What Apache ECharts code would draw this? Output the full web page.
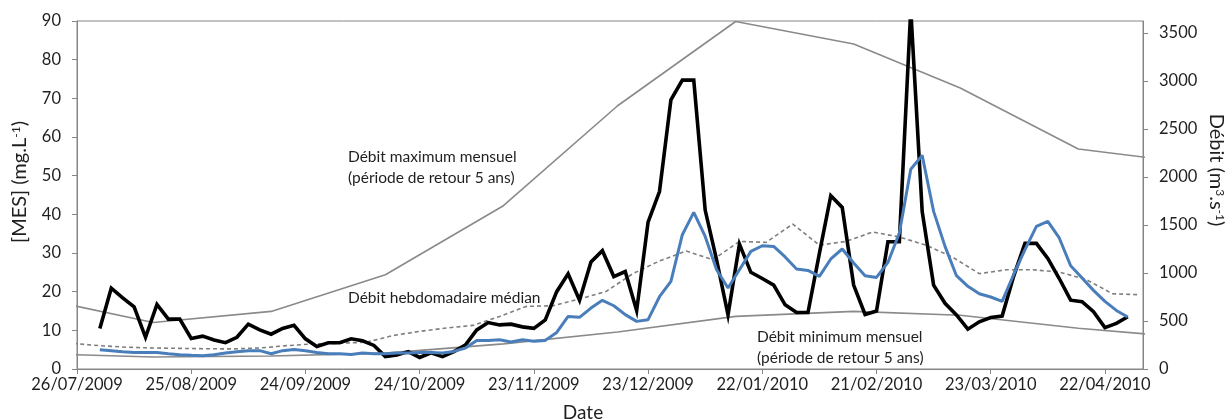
<!DOCTYPE html>
<html>
<head>
<meta charset="utf-8">
<script src="https://cdn.jsdelivr.net/npm/echarts@6/dist/echarts.min.js"></script>
<style>
  html, body { margin: 0; padding: 0; background: #ffffff; }
  #chart { width: 1232px; height: 419px; }
</style>
</head>
<body>
<div id="chart"></div>
<script>
// Sampling dates of the MES / discharge survey (every 3 days)
const sampleDates = [
  '2009-08-01','2009-08-04','2009-08-07','2009-08-10','2009-08-13','2009-08-16','2009-08-19','2009-08-22','2009-08-25','2009-08-28','2009-08-31',
  '2009-09-03','2009-09-06','2009-09-09','2009-09-12','2009-09-15','2009-09-18','2009-09-21','2009-09-24','2009-09-27','2009-09-30',
  '2009-10-03','2009-10-06','2009-10-09','2009-10-12','2009-10-15','2009-10-18','2009-10-21','2009-10-24','2009-10-27','2009-10-30',
  '2009-11-02','2009-11-05','2009-11-08','2009-11-11','2009-11-14','2009-11-17','2009-11-20','2009-11-23','2009-11-26','2009-11-29',
  '2009-12-02','2009-12-05','2009-12-08','2009-12-11','2009-12-14','2009-12-17','2009-12-20','2009-12-23','2009-12-26','2009-12-29',
  '2010-01-01','2010-01-04','2010-01-07','2010-01-10','2010-01-13','2010-01-16','2010-01-19','2010-01-22','2010-01-25','2010-01-28','2010-01-31',
  '2010-02-03','2010-02-06','2010-02-09','2010-02-12','2010-02-15','2010-02-18','2010-02-21','2010-02-24','2010-02-27',
  '2010-03-02','2010-03-05','2010-03-08','2010-03-11','2010-03-14','2010-03-17','2010-03-20','2010-03-23','2010-03-26','2010-03-29',
  '2010-04-01','2010-04-04','2010-04-07','2010-04-10','2010-04-13','2010-04-16','2010-04-19','2010-04-22','2010-04-25','2010-04-28'
];

// Suspended matter concentration [MES] (mg/L)
const mesValues = [
  10.5, 20.9, 18.4, 16.1, 8.2, 16.7, 12.9, 12.9, 7.9, 8.5, 7.5,
  6.8, 8.2, 11.6, 10.1, 9.0, 10.5, 11.3, 7.8, 5.8, 6.8,
  6.8, 7.8, 7.3, 6.1, 3.2, 3.6, 4.5, 3.0, 4.2, 3.2,
  4.5, 6.2, 10.1, 12.0, 11.4, 11.6, 10.9, 10.5, 12.7, 20.0,
  24.6, 17.8, 27.7, 30.6, 23.9, 25.2, 15.1, 38.0, 45.9, 69.6,
  74.7, 74.7, 41.1, 28.2, 14.0, 32.3, 25.0, 23.4, 21.7, 16.6, 14.6,
  14.6, 29.9, 44.8, 41.8, 21.7, 14.1, 15.0, 32.9, 32.9,
  93.0, 40.7, 21.7, 17.0, 14.0, 10.3, 12.2, 13.3, 13.7, 23.9,
  32.5, 32.5, 28.6, 23.4, 17.8, 17.4, 14.8, 10.7, 11.8, 13.5
];

// Measured discharge (m3/s)
const flowValues = [
  201, 191, 180, 173, 173, 173, 159, 149, 142, 139, 149,
  167, 180, 191, 191, 159, 191, 204, 191, 173, 159,
  159, 152, 167, 159, 159, 167, 167, 173, 173, 167,
  183, 219, 298, 298, 305, 281, 305, 288, 298, 381,
  548, 538, 635, 715, 659, 566, 496, 514, 753, 913,
  1399, 1631, 1381, 1034, 844, 1034, 1225, 1284, 1277, 1167, 1042,
  1027, 965, 1146, 1250, 1104, 972, 954, 1110, 1417,
  2080, 2225, 1642, 1277, 972, 861, 784, 750, 704, 982,
  1243, 1485, 1538, 1365, 1076, 948, 819, 704, 610, 542
];

// Weekly median discharge (m3/s)
const weekDates = [
  '2009-07-25','2009-08-01','2009-08-08','2009-08-15','2009-08-22','2009-08-29',
  '2009-09-05','2009-09-12','2009-09-19','2009-09-26',
  '2009-10-03','2009-10-10','2009-10-17','2009-10-24','2009-10-31',
  '2009-11-07','2009-11-14','2009-11-21','2009-11-28',
  '2009-12-05','2009-12-12','2009-12-19','2009-12-26',
  '2010-01-02','2010-01-09','2010-01-16','2010-01-23','2010-01-30',
  '2010-02-06','2010-02-13','2010-02-20','2010-02-27',
  '2010-03-06','2010-03-13','2010-03-20','2010-03-27',
  '2010-04-03','2010-04-10','2010-04-17','2010-04-24','2010-05-01'
];
const weeklyMedian = [
  266, 243, 227, 219, 215, 211,
  209, 219, 243, 261,
  268, 279, 349, 392, 427,
  454, 548, 652, 659,
  729, 808, 993, 1125,
  1229, 1138, 1329, 1319, 1510,
  1290, 1329, 1427, 1375,
  1290, 1165, 993, 1034,
  1034, 1010, 933, 784, 774
];

// Monthly maximum / minimum discharge, 5-year return period (m3/s)
const monthDates = [
  '2009-07-15','2009-08-15','2009-09-15','2009-10-15','2009-11-15','2009-12-15',
  '2010-01-15','2010-02-15','2010-03-15','2010-04-15','2010-05-15'
];
const monthlyMax = [744, 485, 600, 982, 1701, 2742, 3620, 3385, 2927, 2292, 2145];
const monthlyMin = [160, 125, 135, 165, 262, 385, 548, 600, 560, 425, 324];

// Axis settings (dates are handled as spreadsheet day serials)
const xStart = '2009-07-26';
const xEnd = '2010-05-02';
const xStepDays = 30;
const mesMax = 90, mesStep = 10;
const flowMax = 3625, flowStep = 500;

function toSerial(iso) {
  const p = iso.split('-').map(Number);
  return Date.UTC(p[0], p[1] - 1, p[2]) / 86400000 + 25569;
}
function serialLabel(s) {
  const d = new Date((s - 25569) * 86400000);
  const dd = String(d.getUTCDate()).padStart(2, '0');
  const mm = String(d.getUTCMonth() + 1).padStart(2, '0');
  return dd + '/' + mm + '/' + d.getUTCFullYear();
}
function pairs(dates, values) {
  return dates.map((d, i) => [toSerial(d), values[i]]);
}

const xMin = toSerial(xStart);
const xMax = toSerial(xEnd);

const FONT = 'Lato';
const TXT = '#1f1f1f';
const AXIS = '#868686';

const chart = echarts.init(document.getElementById('chart'), null, { renderer: 'canvas' });

chart.setOption({
  animation: false,
  backgroundColor: '#ffffff',
  textStyle: { fontFamily: FONT },
  grid: {
    left: 77, right: 89, top: 21, bottom: 50,
    show: true, borderColor: AXIS, borderWidth: 1
  },
  xAxis: {
    type: 'value',
    min: xMin, max: xMax, interval: xStepDays,
    axisLine: { show: true, lineStyle: { color: AXIS, width: 1 } },
    axisTick: { show: true, inside: false, length: 5, lineStyle: { color: AXIS } },
    splitLine: { show: false },
    axisLabel: {
      showMaxLabel: false,
      margin: 7,
      color: TXT, fontFamily: FONT, fontSize: 16.5,
      formatter: v => ((v - xMin) % xStepDays === 0 ? serialLabel(v) : '')
    }
  },
  yAxis: [
    {
      type: 'value', position: 'left',
      min: 0, max: mesMax, interval: mesStep,
      axisLine: { show: true, lineStyle: { color: AXIS, width: 1 } },
      axisTick: { show: true, inside: false, length: 5, lineStyle: { color: AXIS } },
      splitLine: { show: false },
      axisLabel: { margin: 16, color: TXT, fontFamily: FONT, fontSize: 16.5 }
    },
    {
      type: 'value', position: 'right',
      min: 0, max: flowMax, interval: flowStep,
      axisLine: { show: true, lineStyle: { color: AXIS, width: 1 } },
      axisTick: { show: true, inside: false, length: 5, lineStyle: { color: AXIS } },
      splitLine: { show: false },
      axisLabel: {
        showMaxLabel: false,
        margin: 16, color: TXT, fontFamily: FONT, fontSize: 16.5,
        formatter: v => (v % flowStep === 0 ? String(v) : '')
      }
    }
  ],
  series: [
    {
      name: 'Débit maximum mensuel', type: 'line', yAxisIndex: 1,
      data: pairs(monthDates, monthlyMax), showSymbol: false, symbol: 'none',
      lineStyle: { color: '#8a8a8a', width: 1.6 }, clip: true, z: 2
    },
    {
      name: 'Débit minimum mensuel', type: 'line', yAxisIndex: 1,
      data: pairs(monthDates, monthlyMin), showSymbol: false, symbol: 'none',
      lineStyle: { color: '#8a8a8a', width: 1.6 }, clip: true, z: 2
    },
    {
      name: 'Débit hebdomadaire médian', type: 'line', yAxisIndex: 1,
      data: pairs(weekDates, weeklyMedian), showSymbol: false, symbol: 'none',
      lineStyle: { color: '#7f7f7f', width: 1.6, type: [4, 3] }, clip: true, z: 3
    },
    {
      name: '[MES]', type: 'line', yAxisIndex: 0,
      data: pairs(sampleDates, mesValues), showSymbol: false, symbol: 'none',
      lineStyle: { color: '#000000', width: 3.6, join: 'miter' }, clip: true, z: 4
    },
    {
      name: 'Débit', type: 'line', yAxisIndex: 1,
      data: pairs(sampleDates, flowValues), showSymbol: false, symbol: 'none',
      lineStyle: { color: '#4a7ebb', width: 3 }, clip: true, z: 5
    }
  ],
  graphic: [
    {
      type: 'text', x: 20, y: 182, rotation: Math.PI / 2,
      style: {
        text: '[MES] (mg.L{sup|-1})',
        fill: TXT, font: '20px Lato', align: 'center', verticalAlign: 'middle',
        rich: { sup: { fontSize: 12, fontFamily: FONT, verticalAlign: 'top', fill: TXT } }
      }
    },
    {
      type: 'text', x: 1216, y: 170, rotation: -Math.PI / 2,
      style: {
        text: 'Débit (m{sup|3}.s{sup|-1})',
        fill: TXT, font: '20px Lato', align: 'center', verticalAlign: 'middle',
        rich: { sup: { fontSize: 12, fontFamily: FONT, verticalAlign: 'top', fill: TXT } }
      }
    },
    {
      type: 'text', x: 583, y: 413,
      style: { text: 'Date', fill: TXT, font: '19px Lato', align: 'center', verticalAlign: 'middle' }
    },
    {
      type: 'text', x: 348, y: 167,
      style: {
        text: 'Débit maximum mensuel\n(période de retour 5 ans)', lineHeight: 21,
        fill: TXT, font: '15.5px Lato', align: 'left', verticalAlign: 'middle'
      }
    },
    {
      type: 'text', x: 348, y: 298,
      style: { text: 'Débit hebdomadaire médian', fill: TXT, font: '15.5px Lato', align: 'left', verticalAlign: 'middle' }
    },
    {
      type: 'text', x: 757, y: 347,
      style: {
        text: 'Débit minimum mensuel\n(période de retour 5 ans)', lineHeight: 21,
        fill: TXT, font: '15.5px Lato', align: 'left', verticalAlign: 'middle'
      }
    }
  ]
});
</script>
</body>
</html>
